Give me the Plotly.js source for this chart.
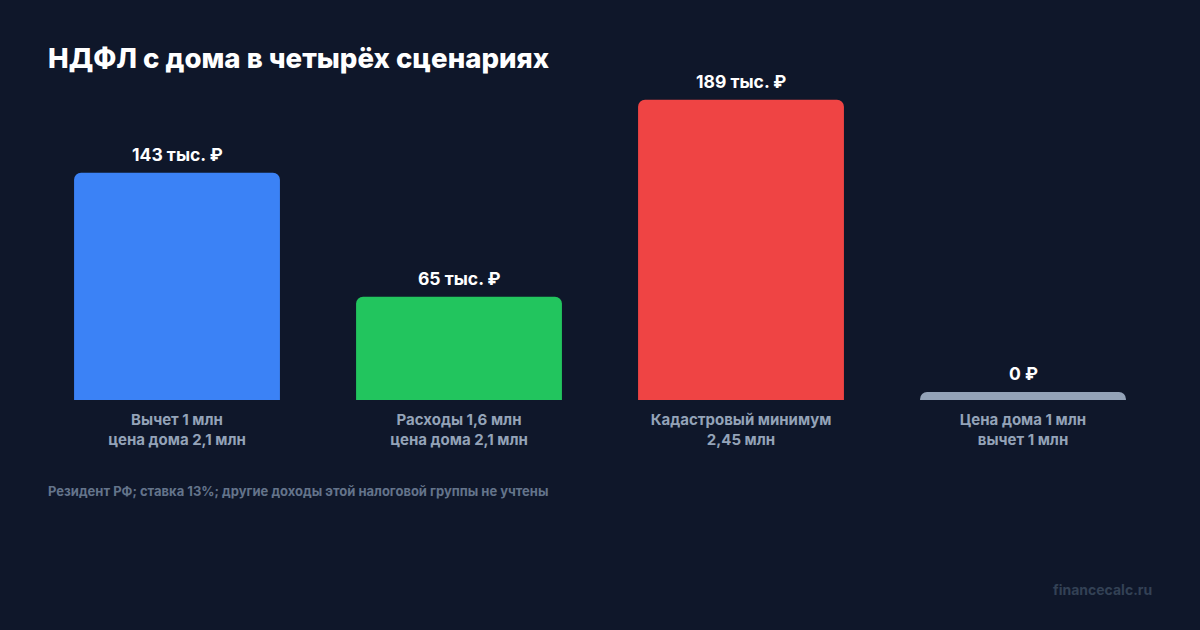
<!DOCTYPE html>
<html>
<head>
<meta charset="utf-8">
<script src="https://cdn.plot.ly/plotly-3.0.1.min.js"></script>
<style>
  html, body { margin: 0; padding: 0; background: #0f172a; }
  #chart { width: 1200px; height: 630px; }
</style>
</head>
<body>
<div id="chart"></div>
<script>
// scenario labels (two lines each)
var scenarios = [
  'Вычет 1 млн<br>цена дома 2,1 млн',
  'Расходы 1,6 млн<br>цена дома 2,1 млн',
  'Кадастровый минимум<br>2,45 млн',
  'Цена дома 1 млн<br>вычет 1 млн'
];
// tax, thousand rubles
var taxValues = [143, 65, 189, 0];
var valueLabels = ['143 тыс. ₽', '65 тыс. ₽', '189 тыс. ₽', '0 ₽'];
var barColors = ['#3b82f6', '#22c55e', '#ef4444', '#94a3b8'];

// zero bar still gets a thin stub so it is visible
var minStub = 5;
var shown = taxValues.map(function (v) { return Math.max(v, minStub); });

var font = 'Inter, "Noto Sans", sans-serif';

var data = [{
  type: 'bar',
  x: scenarios,
  y: shown,
  marker: { color: barColors, cornerradius: 7 },
  hoverinfo: 'skip'
}];

var annotations = scenarios.map(function (s, i) {
  return {
    x: s, y: shown[i], xref: 'x', yref: 'y',
    text: valueLabels[i], showarrow: false,
    yanchor: 'bottom', yshift: 6,
    font: { family: font, size: 17.5, color: '#ffffff', weight: 700 }
  };
});
annotations.push({
  xref: 'paper', yref: 'paper', x: 0.0088, y: -0.2676,
  xanchor: 'left', yanchor: 'middle', showarrow: false,
  text: 'Резидент РФ; ставка 13%; другие доходы этой налоговой группы не учтены',
  font: { family: font, size: 13, color: '#64748b', weight: 700 }
});
annotations.push({
  xref: 'paper', yref: 'paper', x: 0.9912, y: -0.5588,
  xanchor: 'right', yanchor: 'middle', showarrow: false,
  text: 'financecalc.ru',
  font: { family: font, size: 14, color: '#334155', weight: 700 }
});

var layout = {
  width: 1200, height: 630,
  paper_bgcolor: '#0f172a', plot_bgcolor: '#0f172a',
  margin: { t: 60, b: 230, l: 36, r: 36 },
  showlegend: false,
  bargap: 0.27,
  title: {
    text: 'НДФЛ с дома в четырёх сценариях',
    xref: 'container', yref: 'container',
    x: 0.04, xanchor: 'left', y: 0.908, yanchor: 'middle',
    font: { family: font, size: 27.6, color: '#ffffff', weight: 800 }
  },
  xaxis: {
    type: 'category', showgrid: false, zeroline: false, showline: false,
    ticks: '', ticklabelstandoff: 9,
    tickfont: { family: font, size: 15, color: '#94a3b8', weight: 700 }
  },
  yaxis: { visible: false, range: [0, 214], fixedrange: true },
  annotations: annotations
};

Plotly.newPlot('chart', data, layout, { displayModeBar: false, staticPlot: true });
</script>
</body>
</html>
